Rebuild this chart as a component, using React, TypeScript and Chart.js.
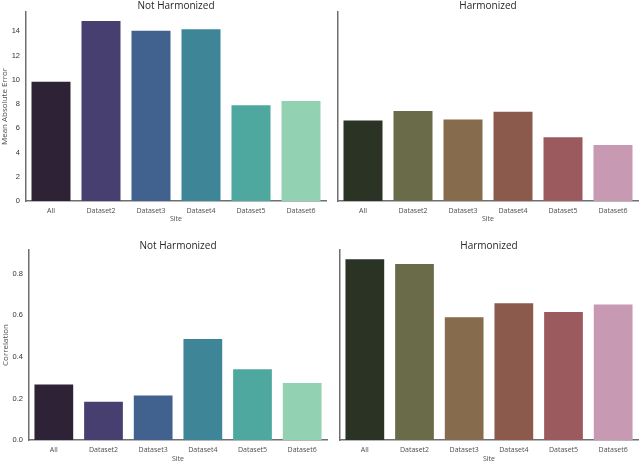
import { useEffect, useRef } from "react";
import { Chart, registerables } from "chart.js";

Chart.register(...registerables);

const sites = ["All", "Dataset2", "Dataset3", "Dataset4", "Dataset5", "Dataset6"];

const maeNotHarmonized = [9.85, 14.85, 14.06, 14.17, 7.9, 8.25];
const maeHarmonized = [6.64, 7.43, 6.72, 7.37, 5.26, 4.63];
const corrNotHarmonized = [0.267, 0.184, 0.214, 0.486, 0.341, 0.274];
const corrHarmonized = [0.871, 0.847, 0.591, 0.658, 0.617, 0.653];

const maeTicks = [0, 2, 4, 6, 8, 10, 12, 14];
const corrTicks = [0, 0.2, 0.4, 0.6, 0.8];

const notHarmonizedColors = ["#2e2236", "#473f6f", "#41628e", "#3e8597", "#4fa8a0", "#93d1b3"];
const harmonizedColors = ["#2b3324", "#6a6b48", "#866b4c", "#8b5a4c", "#9b5a5e", "#c799b2"];

type Box = { left: number; top: number; width: number; height: number };
type Pad = { left: number; right: number; top: number; bottom: number };

type PanelProps = {
  title: string;
  values: number[];
  colors: string[];
  yMax: number;
  yTicks: number[];
  digits: number;
  yLabel?: string;
  box: Box;
  pad: Pad;
  yWidth: number;
  xHeight: number;
  titleGap: number;
  tickGap: number;
  siteGap: number;
  yLabelGap: number;
};

const axisColor = "#6f6f6f";

const Panel = (props: PanelProps) => {
  const chartRef = useRef<HTMLCanvasElement | null>(null);
  const chartInstanceRef = useRef<Chart | null>(null);

  useEffect(() => {
    if (!chartRef.current) return;
    const ctx = chartRef.current.getContext("2d");
    if (!ctx) return;
    if (chartInstanceRef.current) chartInstanceRef.current.destroy();

    const showY = !!props.yLabel;

    chartInstanceRef.current = new Chart(ctx, {
      type: "bar",
      data: {
        labels: sites,
        datasets: [
          {
            data: props.values,
            backgroundColor: props.colors,
            borderWidth: 0,
            barPercentage: 0.78,
            categoryPercentage: 1,
          },
        ],
      },
      options: {
        animation: false,
        responsive: true,
        maintainAspectRatio: false,
        layout: { padding: props.pad },
        plugins: {
          legend: { display: false },
          tooltip: { enabled: false },
          title: {
            display: true,
            text: props.title,
            fullSize: false,
            color: "#262626",
            font: { family: "Open Sans", size: 10, weight: "normal", lineHeight: 1.2 },
            padding: { top: 0, bottom: props.titleGap },
          },
        },
        scales: {
          x: {
            offset: true,
            grid: { display: false, drawTicks: false },
            border: { display: true, color: axisColor, width: 1.5 },
            ticks: {
              color: "#4d4d4d",
              padding: props.tickGap,
              font: { family: "Open Sans", size: 7, lineHeight: 1.2 },
            },
            title: {
              display: true,
              text: "Site",
              color: "#4d4d4d",
              font: { family: "Open Sans", size: 7, lineHeight: 1.2 },
              padding: { top: 0, bottom: props.siteGap },
            },
            afterFit: (scale: any) => {
              scale.height = props.xHeight;
            },
          },
          y: {
            min: 0,
            max: props.yMax,
            grid: { display: false, drawTicks: false },
            border: { display: true, color: axisColor, width: 1.5 },
            ticks: {
              display: showY,
              color: "#333333",
              padding: 6,
              font: { family: "Liberation Sans", size: 7.5 },
              callback: (value: any) => Number(value).toFixed(props.digits),
            },
            title: {
              display: showY,
              text: props.yLabel || "",
              color: "#4d4d4d",
              font: { family: "Open Sans", size: 8, lineHeight: 1.2 },
              padding: { top: props.yLabelGap, bottom: 0 },
            },
            afterBuildTicks: (scale: any) => {
              scale.ticks = props.yTicks.map((v) => ({ value: v }));
            },
            afterFit: (scale: any) => {
              scale.width = props.yWidth;
            },
          },
        },
      },
    });

    return () => {
      if (chartInstanceRef.current) {
        chartInstanceRef.current.destroy();
        chartInstanceRef.current = null;
      }
    };
  }, []);

  const { box } = props;
  return (
    <div
      style={{
        position: "absolute",
        left: box.left,
        top: box.top,
        width: box.width,
        height: box.height,
      }}
    >
      <canvas ref={chartRef} />
    </div>
  );
};

const App = () => {
  return (
    <div
      style={{
        position: "fixed",
        left: 0,
        top: 0,
        width: 640,
        height: 462,
        overflow: "hidden",
        background: "#ffffff",
      }}
    >
      <Panel
        title="Not Harmonized"
        values={maeNotHarmonized}
        colors={notHarmonizedColors}
        yMax={15.6}
        yTicks={maeTicks}
        digits={0}
        yLabel="Mean Absolute Error"
        box={{ left: 0, top: 0, width: 330, height: 226 }}
        pad={{ left: 0, right: 4, top: 0, bottom: 0 }}
        yWidth={26}
        xHeight={25}
        titleGap={0}
        tickGap={5.5}
        siteGap={3}
        yLabelGap={0}
      />
      <Panel
        title="Harmonized"
        values={maeHarmonized}
        colors={harmonizedColors}
        yMax={15.6}
        yTicks={maeTicks}
        digits={0}
        box={{ left: 330, top: 0, width: 310, height: 226 }}
        pad={{ left: 8, right: 2, top: 0, bottom: 0 }}
        yWidth={0}
        xHeight={25}
        titleGap={0}
        tickGap={5.5}
        siteGap={3}
        yLabelGap={0}
      />
      <Panel
        title="Not Harmonized"
        values={corrNotHarmonized}
        colors={notHarmonizedColors}
        yMax={0.915}
        yTicks={corrTicks}
        digits={1}
        yLabel="Correlation"
        box={{ left: 0, top: 230, width: 332, height: 234 }}
        pad={{ left: 0, right: 5, top: 10, bottom: 0 }}
        yWidth={29}
        xHeight={24}
        titleGap={-2}
        tickGap={6}
        siteGap={1}
        yLabelGap={1}
      />
      <Panel
        title="Harmonized"
        values={corrHarmonized}
        colors={harmonizedColors}
        yMax={0.915}
        yTicks={corrTicks}
        digits={1}
        box={{ left: 332, top: 230, width: 308, height: 234 }}
        pad={{ left: 8, right: 2, top: 10, bottom: 0 }}
        yWidth={0}
        xHeight={24}
        titleGap={-2}
        tickGap={6}
        siteGap={1}
        yLabelGap={0}
      />
    </div>
  );
};

export default App;
